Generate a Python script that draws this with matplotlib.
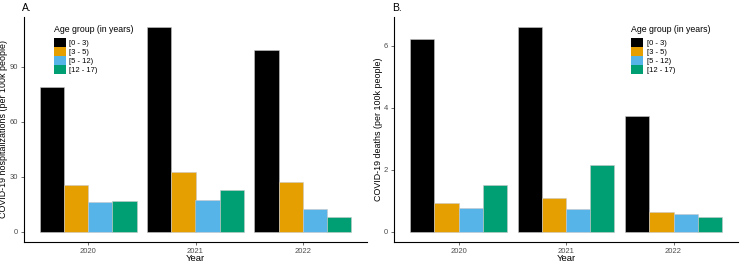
# COVID-19 pediatric hospitalizations and deaths by age group

import numpy as np
import matplotlib
matplotlib.use('Agg')
import matplotlib.pyplot as plt
from matplotlib.patches import Patch

plt.rcParams['font.family'] = ['Liberation Sans', 'DejaVu Sans']

years = ['2020', '2021', '2022']
age_groups = ['[0 - 3)', '[3 - 5)', '[5 - 12)', '[12 - 17)']
colors = ['#000000', '#E69F00', '#56B4E9', '#009E73']

hosp = [[78.8, 111.6, 99.1],		# [0 - 3)
		[25.4, 32.4, 27.0],			# [3 - 5)
		[16.1, 17.6, 12.3],			# [5 - 12)
		[17.0, 22.8, 8.0]]			# [12 - 17)

deaths = [[6.22, 6.60, 3.73],
		  [0.94, 1.10, 0.63],
		  [0.76, 0.75, 0.56],
		  [1.52, 2.16, 0.49]]

def draw_panel(ax, data, ylabel, yticks, letter, legend_x, ylab_x):
	x = np.arange(1, len(years) + 1)
	w = 0.9 / len(age_groups)
	for i in range(len(age_groups)):
		ax.bar(x - 0.45 + w * (i + 0.5), data[i], w, color=colors[i],
			   edgecolor='#c8c8c8', linewidth=0.4)
	top = max(max(r) for r in data)
	ax.set_ylim(-0.05 * top, 1.05 * top)
	ax.set_xlim(0.4, len(years) + 0.6)
	ax.set_xticks(x)
	ax.set_xticklabels(years)
	ax.set_yticks(yticks)
	ax.tick_params(labelsize=5.5, labelcolor='#4d4d4d', length=2.5, width=0.5, color='#333333', pad=2)
	for s in ['top', 'right']:
		ax.spines[s].set_visible(False)
	for s in ['left', 'bottom']:
		ax.spines[s].set_linewidth(0.8)
	ax.set_xlabel('Year', fontsize=6.8)
	ax.xaxis.set_label_coords(0.5, -0.052)
	ax.set_ylabel(ylabel, fontsize=6.4)
	ax.yaxis.set_label_coords(ylab_x, 0.5)
	ax.text(-0.005, 1.04, letter, transform=ax.transAxes, fontsize=7.5, va='center', ha='left')
	handles = [Patch(facecolor=c, edgecolor='none') for c in colors]
	leg = ax.legend(handles, age_groups, title='Age group (in years)', loc='upper left',
					bbox_to_anchor=(legend_x, 0.965), frameon=False, fontsize=5.5,
					title_fontsize=6.3, handlelength=1.5, handleheight=1.45,
					handletextpad=0.5, labelspacing=0.0, borderaxespad=0, borderpad=0)
	leg._legend_box.align = 'left'
	leg._legend_box.sep = 3

fig = plt.figure(figsize=(7.43, 2.65), dpi=100)
W, H = 743.0, 265.0
ax1 = fig.add_axes([24 / W, 23 / H, 343 / W, 225 / H])
ax2 = fig.add_axes([394 / W, 23 / H, 344 / W, 225 / H])

draw_panel(ax1, hosp, 'COVID-19 hospitalizations (per 100k people)', [0, 30, 60, 90], 'A.', 0.088, -0.047)
draw_panel(ax2, deaths, 'COVID-19 deaths (per 100k people)', [0, 2, 4, 6], 'B.', 0.69, -0.032)

plt.savefig('out.png', dpi=100)
